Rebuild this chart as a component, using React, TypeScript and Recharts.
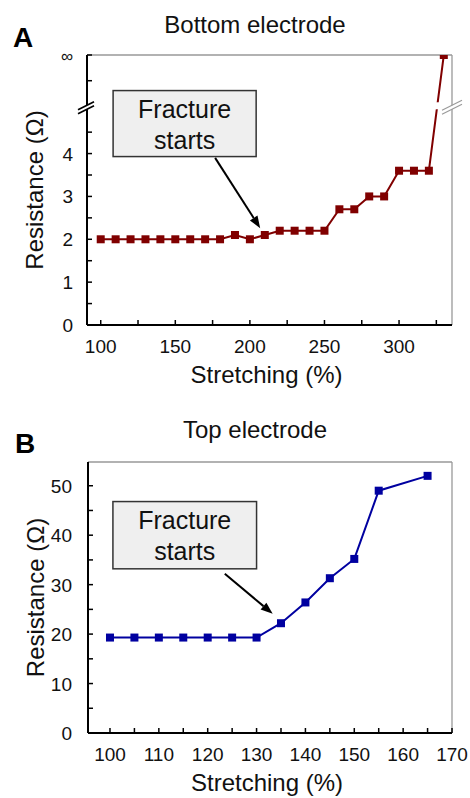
import React from 'react';
import { LineChart, Line, XAxis, YAxis, ReferenceArea, ReferenceLine, ReferenceDot } from 'recharts';

const FONT = '"Liberation Sans", Arial, Helvetica, sans-serif';

// ---------- Panel A: bottom electrode ----------
const INF_LEVEL = 6.3; // axis position used for the "∞" level
const BREAK_LEVEL = 5.08; // axis break position
const bottomStretch = [100, 110, 120, 130, 140, 150, 160, 170, 180, 190, 200, 210, 220, 230, 240, 250, 260, 270, 280, 290, 300, 310, 320, 330];
const bottomResistance = [2.0, 2.0, 2.0, 2.0, 2.0, 2.0, 2.0, 2.0, 2.0, 2.1, 2.0, 2.1, 2.2, 2.2, 2.2, 2.2, 2.7, 2.7, 3.0, 3.0, 3.6, 3.6, 3.6, INF_LEVEL];
const aXTicks = [100, 125, 150, 175, 200, 225, 250, 275, 300, 325];
const aXLabels = [100, 150, 200, 250, 300];
const aYTicks = [0, 0.5, 1, 1.5, 2, 2.5, 3, 3.5, 4, 4.5, 5.7, INF_LEVEL];
const aYLabels: [number, string][] = [[0, '0'], [1, '1'], [2, '2'], [3, '3'], [4, '4'], [INF_LEVEL, '∞']];
const aXDomain = [90.8, 335.5];
const aYDomain = [0, INF_LEVEL];
const aBox = { x1: 108.3, x2: 204.2, y1: 3.93, y2: 5.47 };
const aArrow = [{ x: 176.7, y: 3.9 }, { x: 206.9, y: 2.26 }];

// ---------- Panel B: top electrode ----------
const topStretch = [100, 105, 110, 115, 120, 125, 130, 135, 140, 145, 150, 155, 165];
const topResistance = [19.3, 19.3, 19.3, 19.3, 19.3, 19.3, 19.3, 22.2, 26.4, 31.3, 35.2, 49.0, 52.0];
const bXTicks = [100, 105, 110, 115, 120, 125, 130, 135, 140, 145, 150, 155, 160, 165, 170];
const bXLabels = [100, 110, 120, 130, 140, 150, 160, 170];
const bYTicks = [0, 5, 10, 15, 20, 25, 30, 35, 40, 45, 50];
const bYLabels: [number, string][] = [[0, '0'], [10, '10'], [20, '20'], [30, '30'], [40, '40'], [50, '50']];
const bXDomain = [95.5, 170];
const bYDomain = [0, 54.8];
const bBox = { x1: 100.6, x2: 130.0, y1: 33.2, y2: 46.8 };
const bArrow = [{ x: 123.5, y: 32.2 }, { x: 133.3, y: 24.1 }];

const aData = bottomStretch.map((s, i) => ({ s, r: bottomResistance[i] }));
const bData = topStretch.map((s, i) => ({ s, r: topResistance[i] }));

const makeXTick = (labels: number[]) => (props: any) => {
  const { x, y, payload } = props;
  const v = payload.value;
  return (
    <g>
      <line x1={x} y1={y} x2={x} y2={y - 5} stroke="#000" strokeWidth={1.5} />
      {labels.includes(v) && (
        <text x={x} y={y + 28} textAnchor="middle" fontSize={19} fontFamily={FONT} fill="#111">{v}</text>
      )}
    </g>
  );
};

const makeYTick = (labels: [number, string][], gap: number) => (props: any) => {
  const { x, y, payload } = props;
  const v = payload.value;
  const lab = labels.find((l) => Math.abs(l[0] - v) < 1e-6);
  return (
    <g>
      <line x1={x} y1={y} x2={x + 5} y2={y} stroke="#000" strokeWidth={1.5} />
      {lab && (
        <text x={x - gap} y={y + 7} textAnchor="end" fontSize={lab[1] === '∞' ? 17 : 19} fontFamily={FONT} fill="#111">{lab[1]}</text>
      )}
    </g>
  );
};

const xLabel = (p: any) => {
  const vb = p.viewBox || {};
  return (
    <text x={vb.x + vb.width / 2 - 3} y={vb.y + 58} textAnchor="middle" fontSize={24} fontFamily={FONT} fill="#111">Stretching (%)</text>
  );
};

// y-axis label plus panel title and panel letter (positioned relative to the plot top)
const makeYLabel = (title: string, letter: string, titleCx: number, dyTitle: number, dyLetter: number, letterX: number) => (p: any) => {
  const vb = p.viewBox || {};
  const cx = vb.x + vb.width - 53;
  const cy = vb.y + vb.height / 2;
  return (
    <g>
      <text x={cx} y={cy} transform={`rotate(-90 ${cx} ${cy})`} textAnchor="middle" dominantBaseline="central" fontSize={24} fontFamily={FONT} fill="#111">Resistance (Ω)</text>
      <text x={titleCx} y={vb.y - dyTitle} textAnchor="middle" fontSize={24} fontFamily={FONT} fill="#111">{title}</text>
      <text x={letterX} y={vb.y - dyLetter} textAnchor="start" fontSize={28} fontWeight="bold" fontFamily={FONT} fill="#000">{letter}</text>
    </g>
  );
};

const squareDot = (color: string) => (props: any) => {
  const { cx, cy, index } = props;
  if (cx == null || cy == null) return <g key={index} />;
  return <rect key={index} x={cx - 4} y={cy - 4} width={8} height={8} fill={color} />;
};

const frameShape = (p: any) => {
  if (p.x == null) return <g />;
  return (
    <g>
      <line x1={p.x} y1={p.y} x2={p.x + p.width} y2={p.y} stroke="#999" strokeWidth={1.3} />
      <line x1={p.x + p.width} y1={p.y} x2={p.x + p.width} y2={p.y + p.height} stroke="#999" strokeWidth={1.3} />
    </g>
  );
};

const boxShape = (p: any) => {
  if (p.x == null) return <g />;
  return (
    <g>
      <rect x={p.x} y={p.y} width={p.width} height={p.height} fill="#efefef" stroke="#333" strokeWidth={1.5} />
      <text x={p.x + p.width / 2} y={p.y + 27} textAnchor="middle" fontSize={25} fontFamily={FONT} fill="#111">Fracture</text>
      <text x={p.x + p.width / 2} y={p.y + 58} textAnchor="middle" fontSize={25} fontFamily={FONT} fill="#111">starts</text>
    </g>
  );
};

const arrowShape = (p: any) => {
  const { x1, y1, x2, y2 } = p;
  if ([x1, y1, x2, y2].some((v) => v == null || isNaN(v))) return <g />;
  const ang = Math.atan2(y2 - y1, x2 - x1);
  const L = 12;
  const W = 4.5;
  const bx = x2 - L * Math.cos(ang);
  const by = y2 - L * Math.sin(ang);
  const px = -Math.sin(ang) * W;
  const py = Math.cos(ang) * W;
  return (
    <g>
      <line x1={x1} y1={y1} x2={bx} y2={by} stroke="#000" strokeWidth={2} />
      <polygon points={`${x2},${y2} ${bx + px},${by + py} ${bx - px},${by - py}`} fill="#000" />
    </g>
  );
};

const leftBreak = (p: any) => {
  const { cx, cy } = p;
  if (cx == null) return <g />;
  return (
    <g>
      <line x1={cx - 8} y1={cy + 4} x2={cx + 8} y2={cy - 4} stroke="#fff" strokeWidth={4} />
      <line x1={cx - 9} y1={cy + 2.5} x2={cx + 7} y2={cy - 5.5} stroke="#000" strokeWidth={1.8} />
      <line x1={cx - 9} y1={cy + 6.5} x2={cx + 7} y2={cy - 1.5} stroke="#000" strokeWidth={1.8} />
    </g>
  );
};

const rightBreak = (p: any) => {
  const { cx, cy } = p;
  if (cx == null) return <g />;
  return (
    <g>
      <rect x={cx - 19} y={cy - 5} width={8} height={7} fill="#fff" />
      <line x1={cx - 10} y1={cy + 5} x2={cx + 10} y2={cy - 5} stroke="#fff" strokeWidth={3} />
      <line x1={cx - 10} y1={cy + 3} x2={cx + 10} y2={cy - 7} stroke="#999" strokeWidth={1.2} />
      <line x1={cx - 10} y1={cy + 7} x2={cx + 10} y2={cy - 3} stroke="#999" strokeWidth={1.2} />
    </g>
  );
};

export default function App() {
  return (
    <div style={{ position: 'absolute', left: 0, top: 0, width: 470, height: 798, background: '#fff' }}>
      <div style={{ position: 'absolute', left: 0, top: 0 }}>
        <LineChart width={470} height={400} data={aData} margin={{ top: 55, right: 18, bottom: 15, left: 27 }}>
          <ReferenceArea shape={frameShape} ifOverflow="visible" />
          <XAxis type="number" dataKey="s" domain={aXDomain} allowDataOverflow ticks={aXTicks} interval={0} height={60} tickSize={0} tickMargin={0} tickLine={false} tick={makeXTick(aXLabels)} axisLine={{ stroke: '#000', strokeWidth: 2 }} label={{ content: xLabel }} />
          <YAxis type="number" domain={aYDomain} allowDataOverflow ticks={aYTicks} interval={0} width={60} tickSize={0} tickMargin={0} tickLine={false} tick={makeYTick(aYLabels, 14)} axisLine={{ stroke: '#000', strokeWidth: 2 }} label={{ content: makeYLabel('Bottom electrode', 'A', 255, 22, 8, 13) }} />
          <Line dataKey="r" stroke="#800000" strokeWidth={2} dot={squareDot('#800000')} activeDot={false} isAnimationActive={false} />
          <ReferenceArea x1={aBox.x1} x2={aBox.x2} y1={aBox.y1} y2={aBox.y2} shape={boxShape} ifOverflow="visible" zIndex={1500} />
          <ReferenceLine segment={aArrow} shape={arrowShape} ifOverflow="visible" zIndex={1500} />
          <ReferenceDot x={aXDomain[0]} y={BREAK_LEVEL} shape={leftBreak} ifOverflow="visible" zIndex={1600} />
          <ReferenceDot x={aXDomain[1]} y={BREAK_LEVEL} shape={rightBreak} ifOverflow="visible" zIndex={1600} />
        </LineChart>
      </div>
      <div style={{ position: 'absolute', left: 0, top: 400 }}>
        <LineChart width={470} height={398} data={bData} margin={{ top: 62, right: 18, bottom: 5, left: 28 }}>
          <ReferenceArea shape={frameShape} ifOverflow="visible" />
          <XAxis type="number" dataKey="s" domain={bXDomain} allowDataOverflow ticks={bXTicks} interval={0} height={60} tickSize={0} tickMargin={0} tickLine={false} tick={makeXTick(bXLabels)} axisLine={{ stroke: '#000', strokeWidth: 2 }} label={{ content: xLabel }} />
          <YAxis type="number" domain={bYDomain} allowDataOverflow ticks={bYTicks} interval={0} width={60} tickSize={0} tickMargin={0} tickLine={false} tick={makeYTick(bYLabels, 16)} axisLine={{ stroke: '#000', strokeWidth: 2 }} label={{ content: makeYLabel('Top electrode', 'B', 255, 24, 9, 15) }} />
          <Line dataKey="r" stroke="#0000a0" strokeWidth={2} dot={squareDot('#0000a0')} activeDot={false} isAnimationActive={false} />
          <ReferenceArea x1={bBox.x1} x2={bBox.x2} y1={bBox.y1} y2={bBox.y2} shape={boxShape} ifOverflow="visible" zIndex={1500} />
          <ReferenceLine segment={bArrow} shape={arrowShape} ifOverflow="visible" zIndex={1500} />
        </LineChart>
      </div>
    </div>
  );
}
